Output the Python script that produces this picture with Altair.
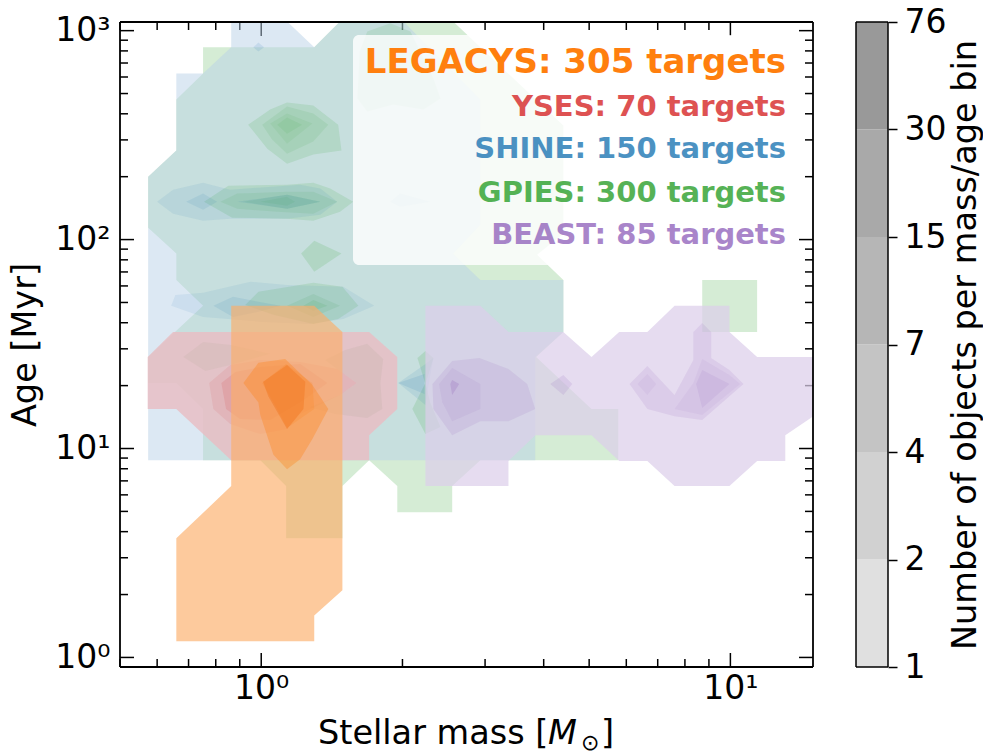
import altair as alt
import pandas as pd

W, H = 693, 645
FONT = "DejaVu Sans"

# ---------- contour outlines, as (log10 mass, log10 age) ----------
SHINE = "#1f77b4"; GPIES = "#2ca02c"; YSES = "#d62728"; BEAST = "#9467bd"; LEGACYS = "#ff7f0e"
SHINE_PALE = "#b9d1e7"; YSES_PALE = "#e7bec4"; BEAST_PALE = "#dccfea"; LEGACYS_PALE = "#fcae69"; MUTED = "#9a9a80"

shine_1_x = [-.064,.055,.113,.168,.303,.467,.467,.409,.467,.644,.644,.584,.584,-.241,-.241,-.181,-.181,-.124,-.064]
shine_1_y = [3.044,3.044,2.920,3.044,3.044,2.670,2.071,1.932,1.807,1.807,1.558,1.438,.944,.944,2.301,2.426,2.795,2.795,2.920]
shine_2_x = [-.222,-.188,-.124,-.066,.083,.126,.162,.126,.055,-.066,-.124,-.188]
shine_2_y = [2.181,2.239,2.272,2.239,2.263,2.244,2.181,2.119,2.100,2.100,2.090,2.124]
shine_3_x = [-.160,-.124,-.094,-.124]
shine_3_y = [2.181,2.220,2.181,2.143]
shine_4_x = [-.051,.055,.126,.055]
shine_4_y = [2.181,2.215,2.181,2.148]
shine_5_x = [-.192,-.183,-.124,-.023,.055,.175,.241,.175,.104,.004,-.124]
shine_5_y = [1.683,1.735,1.745,1.798,1.783,1.774,1.683,1.620,1.596,1.606,1.630]
shine_6_x = [-.102,-.060,-.006,.041,-.006,-.060]
shine_6_y = [1.683,1.726,1.702,1.683,1.654,1.630]
shine_7_x = [.292,.350,.367,.356,.350]
shine_7_y = [1.314,1.405,1.433,1.294,1.208]
shine_8_x = [.292,.348,.348]
shine_8_y = [1.314,1.357,1.261]
shine_9_x = [-.017,-.006,.006,-.006]
shine_9_y = [2.920,2.943,2.920,2.900]
shine_10_x = [.275,.296,.360,.296]
shine_10_y = [2.181,2.220,2.181,2.157]

gpies_1_x = [-.124,.113,.168,.409,.644,.644,.588,.644,.644,.586,.704,.761,.761,.467,.407,.407,.290,.290,.230,.173,.173,.053,.053,-.002,-.124,-.124,-.181,-.241,-.241,-.124,-.181,-.181,-.241,-.241,-.181,-.181,-.124]
gpies_1_y = [2.920,2.920,3.044,3.044,2.546,2.028,1.927,1.807,1.558,1.438,1.189,1.189,.944,.944,.820,.695,.695,.820,.944,.820,.570,.570,.820,.944,.944,1.189,1.314,1.314,1.438,1.683,1.807,1.933,2.057,2.301,2.426,2.670,2.795]
gpies_rect_x = [.940,1.057,1.057,.940]
gpies_rect_y = [1.807,1.807,1.558,1.558]
gpies_2_x = [-.070,.055,.111,.147,.196,.168,.111,.055,-.062,-.122]
gpies_2_y = [2.258,2.263,2.272,2.244,2.181,2.133,2.090,2.100,2.105,2.181]
gpies_3_x = [-.087,-.051,.055,.111,.162,.111,.034,-.051]
gpies_3_y = [2.181,2.220,2.229,2.229,2.181,2.124,2.133,2.148]
gpies_4_x = [-.038,.055,.126,.055]
gpies_4_y = [2.181,2.215,2.181,2.148]
gpies_5_x = [-.002,.055,.072,.055]
gpies_5_y = [2.181,2.205,2.181,2.162]
gpies_6_x = [-.028,.019,.055,.111,.164,.171,.111,.055,.013]
gpies_6_y = [2.550,2.622,2.656,2.642,2.550,2.426,2.407,2.363,2.435]
gpies_7_x = [.002,.055,.111,.143,.111,.055,.023]
gpies_7_y = [2.550,2.637,2.603,2.550,2.469,2.411,2.479]
gpies_8_x = [.019,.055,.109,.055]
gpies_8_y = [2.555,2.603,2.555,2.459]
gpies_9_x = [.034,.055,.087,.055]
gpies_9_y = [2.550,2.584,2.550,2.507]
gpies_10_x = [.085,.113,.171,.113]
gpies_10_y = [1.933,1.994,1.933,1.846]
gpies_11_x = [-.034,-.006,.111,.173,.207,.164,.111,.026]
gpies_11_y = [1.687,1.750,1.793,1.774,1.683,1.620,1.596,1.640]
gpies_12_x = [.055,.111,.168,.111]
gpies_12_y = [1.683,1.740,1.683,1.630]
gpies_13_x = [.090,.111,.141,.111]
gpies_13_y = [1.683,1.711,1.683,1.659]
gpies_14_x = [.333,.350,.367,.350]
gpies_14_y = [1.433,1.467,1.433,1.309]
gpies_15_x = [.350,.322,.350,.382,.360]
gpies_15_y = [1.314,1.189,1.069,1.103,1.222]
gpies_16_x = [.226,.275,.318,.367,.382,.346,.281,.226,.205,.210]
gpies_16_y = [2.996,3.035,2.996,2.771,2.675,2.622,2.646,2.613,2.675,2.900]

yses_1_x = [-.188,.230,.290,.290,.230,.230,-.064,-.181,-.242,-.242]
yses_1_y = [1.558,1.558,1.438,1.189,1.064,.944,.944,1.189,1.189,1.438]
yses_2_x = [-.111,-.066,-.002,.083,.162,.203,.168,.083,.055,-.002,-.066,-.102]
yses_2_y = [1.314,1.400,1.424,1.414,1.381,1.314,1.256,1.165,1.093,1.069,1.117,1.189]
yses_3_x = [-.085,-.055,-.002,.083,.141,.083,.019,-.045,-.075]
yses_3_y = [1.314,1.366,1.390,1.405,1.314,1.222,1.136,1.141,1.189]
yses_4_x = [-.166,-.124,-.064,.019,-.066,-.119]
yses_4_y = [1.438,1.510,1.496,1.453,1.400,1.371]
yses_5_x = [.136,.179,.226,.260,.254,.258,.226,.158,.104,.168,.203,.162]
yses_5_y = [1.424,1.472,1.501,1.429,1.314,1.189,1.146,1.165,1.198,1.256,1.314,1.381]

beast_1_x = [.350,.467,.527,.644,.704,.763,.823,.881,.998,.998,1.057,1.20,1.20,1.117,1.117,1.057,.998,.881,.823,.763,.704,.584,.527,.527,.350]
beast_1_y = [1.683,1.683,1.558,1.558,1.438,1.558,1.558,1.683,1.683,1.558,1.438,1.438,1.189,1.064,.940,.940,.820,.820,.940,.940,1.064,1.064,.940,.820,.820]
beast_2_x = [.365,.407,.465,.527,.567,.584,.527,.467,.407,.367]
beast_2_y = [1.309,1.419,1.433,1.381,1.309,1.189,1.131,1.131,1.064,1.189]
beast_3_x = [.379,.407,.467,.467,.407,.386]
beast_3_y = [1.309,1.385,1.309,1.189,1.131,1.222]
beast_4_x = [.403,.407,.422,.407]
beast_4_y = [1.309,1.328,1.309,1.256]
beast_5_x = [.616,.644,.663,.644]
beast_5_y = [1.309,1.352,1.309,1.256]
beast_6_x = [.785,.823,.881,.921,.921,.940,.959,.959,.998,1.028,.940,.881,.823]
beast_6_y = [1.309,1.395,1.256,1.424,1.558,1.601,1.558,1.433,1.376,1.309,1.136,1.155,1.189]
beast_7_x = [.881,.921,.940,.998,1.021,.940]
beast_7_y = [1.189,1.314,1.429,1.352,1.309,1.160]
beast_8_x = [.927,.940,.998,.940]
beast_8_y = [1.309,1.376,1.309,1.194]
beast_9_x = [.802,.823,.842,.823]
beast_9_y = [1.309,1.357,1.309,1.256]

legacys_1_x = [-.064,.113,.173,.173,.113,.113,-.181,-.181,-.064]
legacys_1_y = [1.683,1.683,1.558,.321,.201,.077,.077,.570,.820]
legacys_2_x = [-.038,-.006,.051,.109,.143,.109,.083,.055,.026,-.002,-.006]
legacys_2_y = [1.314,1.410,1.429,1.304,1.189,1.045,.949,.901,.970,1.160,1.220]
legacys_3_x = [.002,.053,.109,.113,.055,.034]
legacys_3_y = [1.314,1.405,1.314,1.189,1.098,1.189]
legacys_4_x = [.004,.055,.094,.090,.055,.015]
legacys_4_y = [1.319,1.400,1.319,1.189,1.093,1.250]

contours = [
    (gpies_1_x, gpies_1_y, GPIES, .20), (gpies_rect_x, gpies_rect_y, GPIES, .20),
    (shine_1_x, shine_1_y, SHINE_PALE, .50),
    (gpies_2_x, gpies_2_y, GPIES, .13),
    (gpies_3_x, gpies_3_y, GPIES, .09), (gpies_4_x, gpies_4_y, GPIES, .08), (gpies_5_x, gpies_5_y, GPIES, .08),
    (gpies_6_x, gpies_6_y, GPIES, .13), (gpies_7_x, gpies_7_y, GPIES, .09), (gpies_8_x, gpies_8_y, GPIES, .07),
    (gpies_9_x, gpies_9_y, GPIES, .08), (gpies_10_x, gpies_10_y, GPIES, .14), (gpies_11_x, gpies_11_y, GPIES, .13),
    (gpies_12_x, gpies_12_y, GPIES, .09), (gpies_13_x, gpies_13_y, GPIES, .10), (gpies_14_x, gpies_14_y, GPIES, .15),
    (gpies_15_x, gpies_15_y, GPIES, .15), (gpies_16_x, gpies_16_y, GPIES, .10),
    (shine_2_x, shine_2_y, SHINE, .09), (shine_3_x, shine_3_y, SHINE, .10),
    (shine_4_x, shine_4_y, SHINE, .10), (shine_5_x, shine_5_y, SHINE, .08), (shine_6_x, shine_6_y, SHINE, .10),
    (shine_7_x, shine_7_y, SHINE, .10), (shine_8_x, shine_8_y, SHINE, .12), (shine_9_x, shine_9_y, SHINE, .12),
    (shine_10_x, shine_10_y, SHINE, .08),
    (yses_1_x, yses_1_y, YSES_PALE, .85), (yses_2_x, yses_2_y, YSES, .09), (yses_3_x, yses_3_y, YSES, .12),
    (yses_4_x, yses_4_y, MUTED, .10), (yses_5_x, yses_5_y, MUTED, .12),
    (beast_1_x, beast_1_y, BEAST_PALE, .72), (beast_2_x, beast_2_y, BEAST, .13), (beast_3_x, beast_3_y, BEAST, .10),
    (beast_4_x, beast_4_y, BEAST, .25), (beast_5_x, beast_5_y, BEAST, .15), (beast_6_x, beast_6_y, BEAST, .13),
    (beast_7_x, beast_7_y, BEAST, .08), (beast_8_x, beast_8_y, BEAST, .12), (beast_9_x, beast_9_y, BEAST, .08),
    (legacys_1_x, legacys_1_y, LEGACYS_PALE, .65), (legacys_2_x, legacys_2_y, LEGACYS, .32), (legacys_3_x, legacys_3_y, LEGACYS, .16),
    (legacys_4_x, legacys_4_y, "#f0741c", .40),
]

rows = []
for k, (xs, ys, col, a) in enumerate(contours):
    for i, (lx, ly) in enumerate(zip(xs, ys)):
        rows.append({"poly": f"p{k:02d}", "i": i, "mass": 10 ** lx, "age": 10 ** ly, "col": col, "a": a})
poly_df = pd.DataFrame(rows)

# ---------- scales, ticks ----------
x_major = [1, 10]
x_minor = [.5, .6, .7, .8, .9, 2, 3, 4, 5, 6, 7, 8, 9]
y_major = [1, 10, 100, 1000]
y_minor = [.9, 2, 3, 4, 5, 6, 7, 8, 9, 20, 30, 40, 50, 60, 70, 80, 90, 200, 300, 400, 500, 600, 700, 800, 900]

x_scale = alt.Scale(type="log", domain=[.5, 15], nice=False)
y_scale = alt.Scale(type="log", domain=[.9, 1100], nice=False)
LF = 33
TF = 33.5
x_axis = alt.Axis(values=x_major, grid=False, domain=False, ticks=False, labelFontSize=LF, labelPadding=5,
                  labelExpr="datum.value == 1 ? '10⁰' : '10¹'", labelColor="black", title=None, labelFlush=False)
y_axis = alt.Axis(values=y_major, grid=False, domain=False, ticks=False, labelFontSize=LF, labelPadding=10,
                  labelExpr="datum.value == 1 ? '10⁰' : datum.value == 10 ? '10¹' : datum.value == 100 ? '10²' : '10³'",
                  labelColor="black", title="Age [Myr]", titleFontSize=TF, titleFontWeight="normal",
                  titleColor="black", titlePadding=12)
X = alt.X("v:Q", scale=x_scale, axis=x_axis)
Y = alt.Y("v:Q", scale=y_scale, axis=y_axis)


def xticks(vals, n):
    d = pd.DataFrame({"v": vals})
    b = alt.Chart(d).mark_rule(color="black", strokeWidth=1.5).encode(x=X, y=alt.value(H), y2=alt.value(H - n))
    t = alt.Chart(d).mark_rule(color="black", strokeWidth=1.5).encode(x=X, y=alt.value(0), y2=alt.value(n))
    return [b, t]


def yticks(vals, n):
    d = pd.DataFrame({"v": vals})
    l = alt.Chart(d).mark_rule(color="black", strokeWidth=1.5, clip=True).encode(y=Y, x=alt.value(0), x2=alt.value(n))
    r = alt.Chart(d).mark_rule(color="black", strokeWidth=1.5, clip=True).encode(y=Y, x=alt.value(W), x2=alt.value(W - n))
    return [l, r]


polys = alt.Chart(poly_df).mark_line(filled=True, clip=True, strokeWidth=0, interpolate="linear").encode(
    x=alt.X("mass:Q", scale=x_scale, axis=x_axis),
    y=alt.Y("age:Q", scale=y_scale, axis=y_axis),
    order="i:Q",
    detail="poly:N",
    color=alt.Color("col:N", scale=None),
    opacity=alt.Opacity("a:Q", scale=None),
)

one = pd.DataFrame({"a": [0]})
box = alt.Chart(one).mark_rect(fill="white", opacity=.8, cornerRadius=6).encode(
    x=alt.value(233), x2=alt.value(672), y=alt.value(13), y2=alt.value(243))

label_names = ["LEGACYS: 305 targets", "YSES: 70 targets", "SHINE: 150 targets", "GPIES: 300 targets", "BEAST: 85 targets"]
label_cols = [LEGACYS, YSES, SHINE, GPIES, BEAST]
label_alpha = [1, .8, .8, .8, .8]
label_size = [34, 29, 29, 29, 29]
label_base = [51, 94, 136, 180, 222]
texts = []
for n, c, a, s, b in zip(label_names, label_cols, label_alpha, label_size, label_base):
    texts.append(alt.Chart(one).mark_text(text=n, color=c, opacity=a, fontSize=s, fontWeight="bold", align="right",
                                          baseline="alphabetic", font=FONT).encode(x=alt.value(666), y=alt.value(b)))


def frame(w, h, sw=1.8):
    return [
        alt.Chart(one).mark_rule(color="black", strokeWidth=sw).encode(x=alt.value(0), y=alt.value(0), y2=alt.value(h)),
        alt.Chart(one).mark_rule(color="black", strokeWidth=sw).encode(x=alt.value(w), y=alt.value(0), y2=alt.value(h)),
        alt.Chart(one).mark_rule(color="black", strokeWidth=sw).encode(y=alt.value(0), x=alt.value(0), x2=alt.value(w)),
        alt.Chart(one).mark_rule(color="black", strokeWidth=sw).encode(y=alt.value(h), x=alt.value(0), x2=alt.value(w)),
    ]


def title_part(t, x, size=TF, style="normal", dy=0):
    return alt.Chart(one).mark_text(text=t, fontSize=size, fontStyle=style, align="left", baseline="alphabetic",
                                    font=FONT, color="black").encode(x=alt.value(x), y=alt.value(H + 77 + dy))


xtitle = [title_part("Stellar mass [", 198), title_part("M", 428, style="italic"),
          title_part("⊙", 461, size=22, dy=6), title_part("]", 481)]

main = alt.layer(
    *xticks(x_major, 14), *xticks(x_minor, 8), *yticks(y_major, 14), *yticks(y_minor, 8),
    polys, box, *texts, *frame(W, H), *xtitle
).properties(width=W, height=H)

# ---------- colour bar ----------
cb_levels = ["1", "2", "4", "7", "15", "30", "76"]
cb_low = [0, 1, 2, 3, 4, 5]
cb_high = [1, 2, 3, 4, 5, 6]
cb_grey = ["#e0e0e0", "#d1d1d1", "#c4c4c4", "#b6b6b6", "#a9a9a9", "#999999"]
cb_df = pd.DataFrame({"lo": cb_low, "hi": cb_high, "g": cb_grey})
cb_axis = alt.Axis(values=list(range(7)), grid=False, domain=False, tickSize=9, tickWidth=1.5, tickColor="black",
                   orient="right", labelFontSize=LF, labelPadding=7, labelColor="black", labelFlush=False,
                   labelExpr="['" + "','".join(cb_levels) + "'][datum.value]",
                   title="Number of objects per mass/age bin", titleFontSize=TF, titleFontWeight="normal",
                   titleColor="black", titleAngle=270, titlePadding=37)
bar = alt.Chart(cb_df).mark_rect().encode(
    x=alt.value(0), x2=alt.value(32),
    y=alt.Y("lo:Q", scale=alt.Scale(domain=[0, 6], nice=False), axis=cb_axis), y2="hi:Q",
    color=alt.Color("g:N", scale=None),
)
cbar = alt.layer(bar, *frame(32, H, 1.5)).properties(width=32, height=H)

chart = alt.hconcat(main, cbar, spacing=41, padding={"left": 0, "top": -2, "right": 0, "bottom": 0}).configure_view(
    stroke=None
).configure_axis(labelFont=FONT, titleFont=FONT)

chart.save("out.html", embed_options={"renderer": "svg", "actions": False})
